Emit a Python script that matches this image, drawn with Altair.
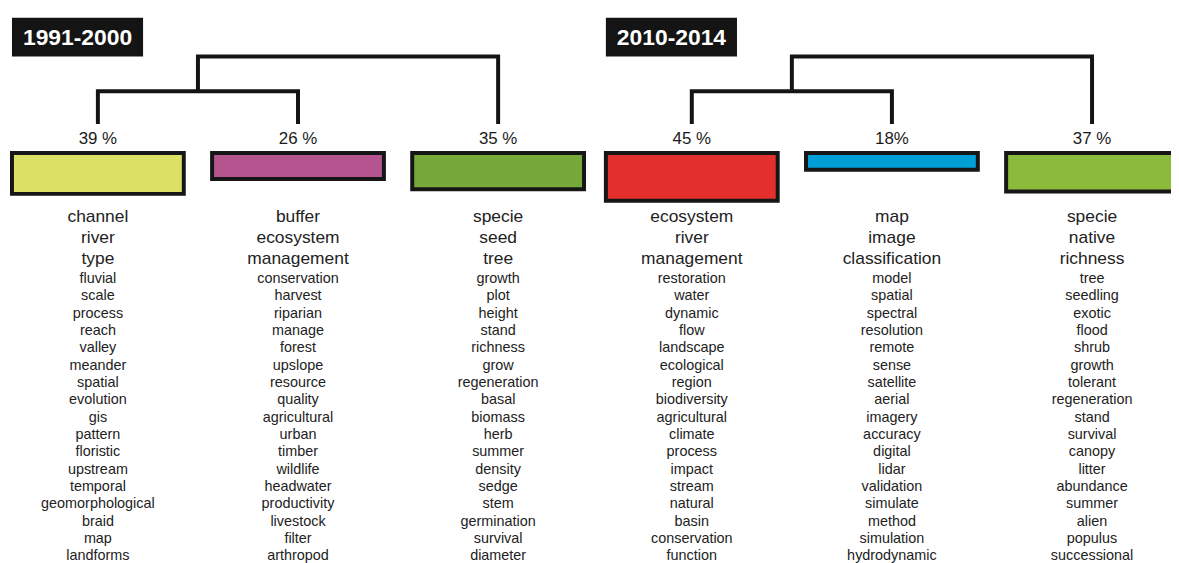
import altair as alt
import pandas as pd

# ---------------- data ----------------
periods = ["1991-2000", "2010-2014"]
pct_1991 = [39, 26, 35]
pct_2010 = [45, 18, 37]
pct_labels_1991 = ["39 %", "26 %", "35 %"]
pct_labels_2010 = ["45 %", "18%", "37 %"]

words_1991_a = ["channel", "river", "type", "fluvial", "scale", "process", "reach", "valley",
                "meander", "spatial", "evolution", "gis", "pattern", "floristic", "upstream",
                "temporal", "geomorphological", "braid", "map", "landforms"]
words_1991_b = ["buffer", "ecosystem", "management", "conservation", "harvest", "riparian",
                "manage", "forest", "upslope", "resource", "quality", "agricultural", "urban",
                "timber", "wildlife", "headwater", "productivity", "livestock", "filter", "arthropod"]
words_1991_c = ["specie", "seed", "tree", "growth", "plot", "height", "stand", "richness", "grow",
                "regeneration", "basal", "biomass", "herb", "summer", "density", "sedge", "stem",
                "germination", "survival", "diameter"]
words_2010_a = ["ecosystem", "river", "management", "restoration", "water", "dynamic", "flow",
                "landscape", "ecological", "region", "biodiversity", "agricultural", "climate",
                "process", "impact", "stream", "natural", "basin", "conservation", "function"]
words_2010_b = ["map", "image", "classification", "model", "spatial", "spectral", "resolution",
                "remote", "sense", "satellite", "aerial", "imagery", "accuracy", "digital", "lidar",
                "validation", "simulate", "method", "simulation", "hydrodynamic"]
words_2010_c = ["specie", "native", "richness", "tree", "seedling", "exotic", "flood", "shrub",
                "growth", "tolerant", "regeneration", "stand", "survival", "canopy", "litter",
                "abundance", "summer", "alien", "populus", "successional"]

# ---------------- styles / layout ----------------
cluster_colors = [["#dce064", "#b5548f", "#76a83a"], ["#e3302d", "#009fd7", "#8bbb3b"]]
FONT = "Liberation Sans"
W, H = 1171, 555
OFF = 8
group_offset = [0, 598]
first_center = 98.5
col_step = 201.5
bar_outer_w = 177
stroke_w = 4
bar_top = 150
bar_scale = 1.16
leaf_y, join1_y, join2_y = 123, 90, 55

pcts = [pct_1991, pct_2010]
pct_labels = [pct_labels_1991, pct_labels_2010]
words = [[words_1991_a, words_1991_b, words_1991_c], [words_2010_a, words_2010_b, words_2010_c]]

title_rows, bar_rows, pct_rows, word_rows, line_rows = [], [], [], [], []
for g, period in enumerate(periods):
    centers = [group_offset[g] + first_center + col_step * k for k in range(3)]
    tx = group_offset[g] + 78
    title_rows.append(dict(label=period, x=tx - 66, x2=tx + 66, y=16, y2=55, cx=tx, by=43))
    for k in range(3):
        c = centers[k]
        h = pcts[g][k] * bar_scale
        bar_rows.append(dict(x=c - bar_outer_w / 2 + stroke_w / 2, x2=c + bar_outer_w / 2 - stroke_w / 2,
                             y=bar_top + stroke_w / 2, y2=bar_top + h - stroke_w / 2,
                             color=cluster_colors[g][k]))
        pct_rows.append(dict(label=pct_labels[g][k], x=c, y=143))
        for i, w in enumerate(words[g][k]):
            if i < 3:
                y = 222 + 21 * i
                fs = 17.5
            else:
                y = 283 + 17.45 * (i - 3)
                fs = 14.5
            word_rows.append(dict(label=w, x=c, y=y, fs=fs))
    m = (centers[0] + centers[1]) / 2
    pathA = [(centers[0], leaf_y), (centers[0], join1_y), (centers[1], join1_y), (centers[1], leaf_y)]
    pathB = [(m, join1_y), (m, join2_y), (centers[2], join2_y), (centers[2], leaf_y)]
    for pid, path in (("A", pathA), ("B", pathB)):
        for o, (px, py) in enumerate(path):
            line_rows.append(dict(pid=f"{g}{pid}", o=o, x=px, y=py))

xs = alt.Scale(domain=[OFF, OFF + W], range=[0, W], nice=False, zero=False)
ys = alt.Scale(domain=[OFF, OFF + H], range=[0, H], nice=False, zero=False)

def X(f="x"):
    return alt.X(f"{f}:Q", scale=xs, axis=None)

def Y(f="y"):
    return alt.Y(f"{f}:Q", scale=ys, axis=None)

titles_box = alt.Chart(pd.DataFrame(title_rows)).mark_rect(color="#141414").encode(
    x=X(), x2="x2:Q", y=Y(), y2="y2:Q")
titles_txt = alt.Chart(pd.DataFrame(title_rows)).mark_text(
    font=FONT, fontSize=23, fontWeight="bold", color="white", align="center", baseline="alphabetic"
).encode(x=X("cx"), y=Y("by"), text="label:N")

lines = alt.Chart(pd.DataFrame(line_rows)).mark_line(
    color="#141414", strokeWidth=4, strokeJoin="miter", strokeCap="butt"
).encode(x=X(), y=Y(), detail="pid:N", order="o:Q")

bars = alt.Chart(pd.DataFrame(bar_rows)).mark_rect(stroke="#161616", strokeWidth=stroke_w).encode(
    x=X(), x2="x2:Q", y=Y(), y2="y2:Q", fill=alt.Fill("color:N", scale=None))

pct_txt = alt.Chart(pd.DataFrame(pct_rows)).mark_text(
    font=FONT, fontSize=17, color="#1a1a1a", align="center", baseline="alphabetic"
).encode(x=X(), y=Y(), text="label:N")

word_txt = alt.Chart(pd.DataFrame(word_rows)).mark_text(
    font=FONT, color="#222222", align="center", baseline="alphabetic"
).encode(x=X(), y=Y(), text="label:N", size=alt.Size("fs:Q", scale=None))

chart = alt.layer(titles_box, titles_txt, lines, bars, pct_txt, word_txt).properties(
    width=W, height=H, autosize=alt.AutoSizeParams(type="none"), padding=0,
    background="white"
).configure_view(strokeWidth=0)

chart.save("out.html", embed_options={"renderer": "svg", "actions": False})
